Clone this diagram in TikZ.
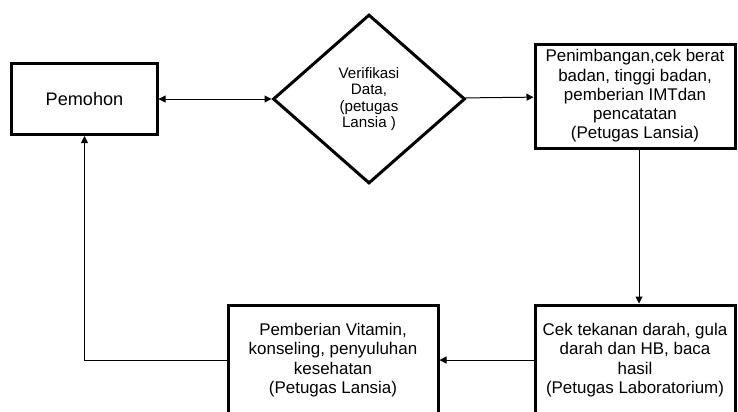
\documentclass[tikz,border=0pt]{standalone}
\usepackage{fontspec}
\setmainfont{Liberation Sans}
\usepackage{tikz}
\usetikzlibrary{shapes.geometric,arrows.meta,positioning}

\begin{document}
\begin{tikzpicture}[x=1bp,y=-1bp,on grid,
		box/.style={draw,line width=3bp,rectangle,align=center,inner sep=0pt,
			font=\fontsize{17}{19.3}\selectfont},
		decision/.style={draw,line width=3bp,diamond,align=center,inner sep=0pt,
			minimum width=192bp,minimum height=169bp,
			font=\fontsize{15.2}{16.3}\selectfont},
		link/.style={line width=1bp,-{Triangle[length=7bp,width=7bp]}}]
		\clip (0,0) rectangle (738,411);
		\node[box,minimum width=145bp,minimum height=71bp,
			font=\fontsize{18.2}{20}\selectfont]	(pemohon)	at (84.5,99)				{Pemohon};
		\node[decision]		(verif)		[right=284.5bp of pemohon]				{Verifikasi\\Data,\\(petugas\\Lansia )};
		\node[box,minimum width=200bp,minimum height=104bp]
							(timbang)	[above right=3bp and 266bp of verif]	{Penimbangan,cek berat\\badan, tinggi badan,\\pemberian IMTdan\\pencatatan\\(Petugas Lansia)};
		\node[box,minimum width=200bp,minimum height=110bp]
							(cek)		[below=264bp of timbang]				{Cek tekanan darah, gula\\darah dan HB, baca\\hasil\\(Petugas Laboratorium)};
		\node[box,minimum width=210bp,minimum height=110bp]
							(vitamin)	[left=302bp of cek]						{Pemberian Vitamin,\\konseling, penyuluhan\\kesehatan\\(Petugas Lansia)};

		\draw[link,{Triangle[length=7bp,width=7bp]}-{Triangle[length=7bp,width=7bp]}]	(pemohon)	--	(verif);
		\draw[link]	(verif)	--	(timbang);
		\draw[link]	([xshift=4bp]timbang.south)	--	([xshift=4bp]cek.north);
		\draw[link]	(cek)	--	(vitamin);
		\draw[link]	(vitamin.west)	-|	(pemohon.south);
	\end{tikzpicture}
\end{document}
